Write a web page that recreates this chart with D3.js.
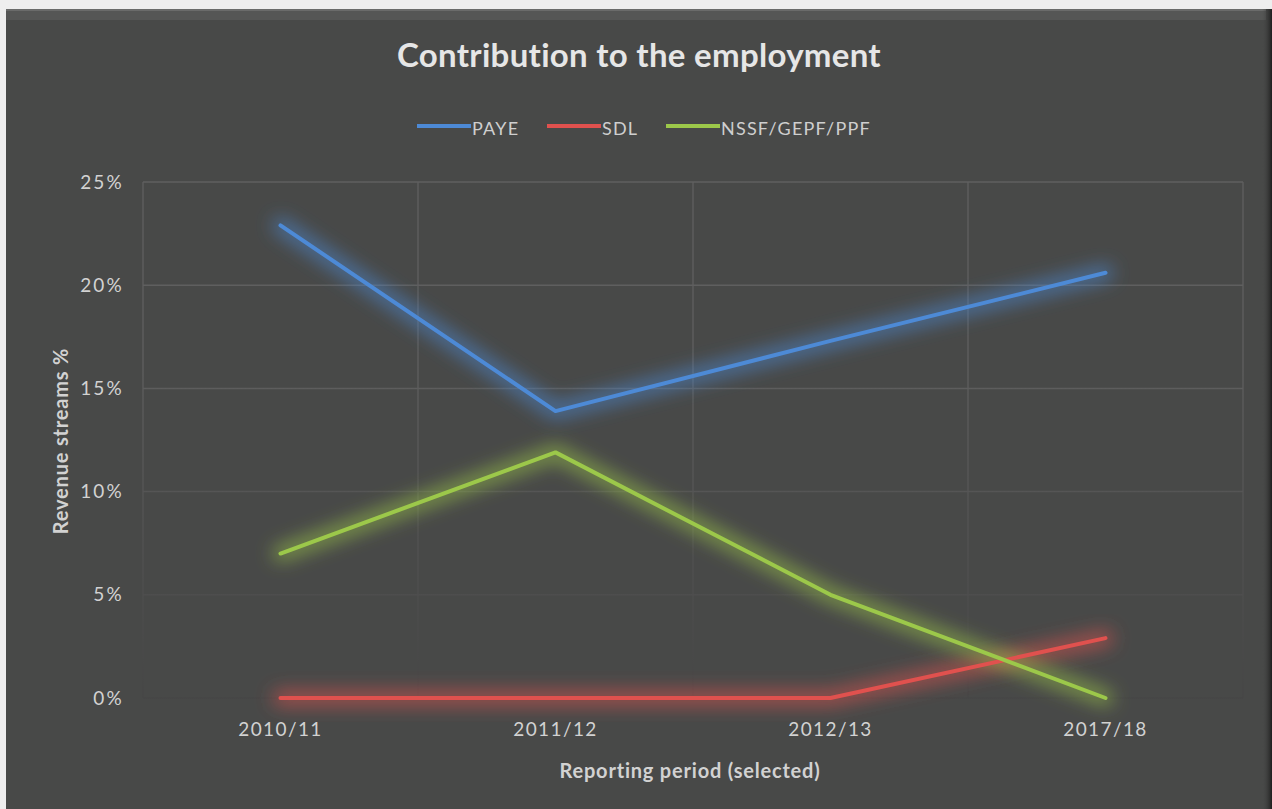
<!DOCTYPE html>
<html>
<head>
<meta charset="utf-8">
<script src="https://cdn.jsdelivr.net/npm/d3@7"></script>
<style>
  html, body { margin: 0; padding: 0; background: #eeeeee; }
  #chart { width: 1272px; height: 809px; }
  text { font-family: Lato, "Open Sans", sans-serif; }
</style>
</head>
<body>
<div id="chart"></div>
<script>
// Chart data
const periods = ['2010/11', '2011/12', '2012/13', '2017/18'];
const paye = [22.9, 13.9, 17.3, 20.6];
const sdl = [0, 0, 0, 2.9];
const nssf = [7.0, 11.9, 5.0, 0];
const yTicks = [0, 5, 10, 15, 20, 25];

const series = [
  { name: 'PAYE', values: paye, color: '#4d8ad6' },
  { name: 'SDL', values: sdl, color: '#e0514e' },
  { name: 'NSSF/GEPF/PPF', values: nssf, color: '#9cc84a' }
];

const W = 1272, H = 809;
const margin = { top: 182, right: 29, bottom: 111, left: 143 };
const width = W - margin.left - margin.right;
const height = H - margin.top - margin.bottom;

const svg = d3.select('#chart')
  .append('svg')
  .attr('width', W)
  .attr('height', H);

const defs = svg.append('defs');

// Glow behind series lines
const glow = defs.append('filter')
  .attr('id', 'glow')
  .attr('x', '-20%').attr('y', '-40%')
  .attr('width', '140%').attr('height', '180%');
glow.append('feGaussianBlur').attr('stdDeviation', 9);

// Gridline fade: lighter at the top, darker at the bottom
const gridGrad = defs.append('linearGradient')
  .attr('id', 'gridGrad')
  .attr('gradientUnits', 'userSpaceOnUse')
  .attr('x1', 0).attr('y1', margin.top)
  .attr('x2', 0).attr('y2', margin.top + height);
gridGrad.append('stop').attr('offset', '0%').attr('stop-color', '#5f5f5f');
gridGrad.append('stop').attr('offset', '100%').attr('stop-color', '#383838');

const shade = defs.append('linearGradient')
  .attr('id', 'rightShade')
  .attr('x1', 0).attr('x2', 1).attr('y1', 0).attr('y2', 0);
shade.append('stop').attr('offset', '0%').attr('stop-color', '#484948').attr('stop-opacity', 0);
shade.append('stop').attr('offset', '100%').attr('stop-color', '#1e1e1e');

// Panel
svg.append('rect')
  .attr('x', 6).attr('y', 9)
  .attr('width', W - 6).attr('height', H - 9)
  .attr('fill', '#484948');
svg.append('rect')
  .attr('x', 6).attr('y', 10)
  .attr('width', W - 12).attr('height', 10)
  .attr('fill', '#555655');
svg.append('rect')
  .attr('x', 6).attr('y', 9)
  .attr('width', W - 12).attr('height', 2)
  .attr('fill', '#6a6b6a');
svg.append('rect')
  .attr('x', W - 10).attr('y', 9)
  .attr('width', 10).attr('height', H - 9)
  .attr('fill', 'url(#rightShade)');

const g = svg.append('g')
  .attr('transform', `translate(${margin.left},${margin.top})`);

const x = d3.scaleBand()
  .domain(periods)
  .range([0, width]);

const y = d3.scaleLinear()
  .domain([0, 25])
  .range([height, 0]);

const xc = d => x(d) + x.bandwidth() / 2;

// Gridlines
g.append('g')
  .selectAll('line.h')
  .data(yTicks)
  .enter()
  .append('line')
  .attr('x1', 0).attr('x2', width)
  .attr('y1', d => y(d)).attr('y2', d => y(d))
  .attr('stroke', 'url(#gridGrad)')
  .attr('stroke-width', 1.5);

const vEdges = periods.map(p => x(p)).concat([width]);
g.append('g')
  .selectAll('line.v')
  .data(vEdges)
  .enter()
  .append('line')
  .attr('x1', d => d).attr('x2', d => d)
  .attr('y1', 0).attr('y2', height)
  .attr('stroke', 'url(#gridGrad)')
  .attr('stroke-width', 1.3);

// Y axis labels
g.append('g')
  .call(d3.axisLeft(y).tickValues(yTicks).tickFormat(d => d + '%').tickSize(0).tickPadding(19))
  .call(a => a.select('.domain').remove())
  .selectAll('text')
  .attr('fill', '#d2d2d2')
  .attr('font-size', 19)
  .attr('letter-spacing', 2.2)
  .attr('font-family', 'Lato, "Open Sans", sans-serif');

// X axis labels
g.append('g')
  .attr('transform', `translate(0,${height})`)
  .call(d3.axisBottom(x).tickSize(0).tickPadding(25))
  .call(a => a.select('.domain').remove())
  .selectAll('text')
  .attr('fill', '#d2d2d2')
  .attr('font-size', 19)
  .attr('letter-spacing', 1.4)
  .attr('font-family', 'Lato, "Open Sans", sans-serif');

// Lines
const line = d3.line()
  .x((d, i) => xc(periods[i]))
  .y(d => y(d));

series.forEach(s => {
  g.append('path')
    .datum(s.values)
    .attr('d', line)
    .attr('fill', 'none')
    .attr('stroke', s.color)
    .attr('stroke-width', 16)
    .attr('stroke-opacity', 0.6)
    .attr('stroke-linejoin', 'round')
    .attr('stroke-linecap', 'round')
    .attr('filter', 'url(#glow)');
});
series.forEach(s => {
  g.append('path')
    .datum(s.values)
    .attr('d', line)
    .attr('fill', 'none')
    .attr('stroke', s.color)
    .attr('stroke-width', 4)
    .attr('stroke-linejoin', 'round')
    .attr('stroke-linecap', 'round');
});

// Title
svg.append('text')
  .attr('x', 639).attr('y', 67)
  .attr('text-anchor', 'middle')
  .attr('fill', '#e6e6e6')
  .attr('font-size', 33)
  .attr('font-weight', 'bold')
  .attr('letter-spacing', 0.3)
  .text('Contribution to the employment');

// Legend
const legendPos = [417, 547, 666];
const legend = svg.append('g');
series.forEach((s, i) => {
  const lx = legendPos[i];
  legend.append('line')
    .attr('x1', lx).attr('x2', lx + 54)
    .attr('y1', 126).attr('y2', 126)
    .attr('stroke', s.color)
    .attr('stroke-width', 4);
  legend.append('text')
    .attr('x', lx + 55).attr('y', 135)
    .attr('fill', '#cfcfcf')
    .attr('font-size', 18)
    .attr('letter-spacing', 1.2)
    .text(s.name);
});

// Axis titles
svg.append('text')
  .attr('x', margin.left + width / 2 - 3).attr('y', 778)
  .attr('text-anchor', 'middle')
  .attr('fill', '#d2d2d2')
  .attr('font-size', 20)
  .attr('font-weight', 'bold')
  .attr('letter-spacing', 0.8)
  .text('Reporting period (selected)');

svg.append('text')
  .attr('transform', `translate(68,${margin.top + height / 2 + 1}) rotate(-90)`)
  .attr('text-anchor', 'middle')
  .attr('fill', '#d2d2d2')
  .attr('font-size', 20)
  .attr('font-weight', 'bold')
  .attr('letter-spacing', 0.8)
  .text('Revenue streams %');
</script>
</body>
</html>
